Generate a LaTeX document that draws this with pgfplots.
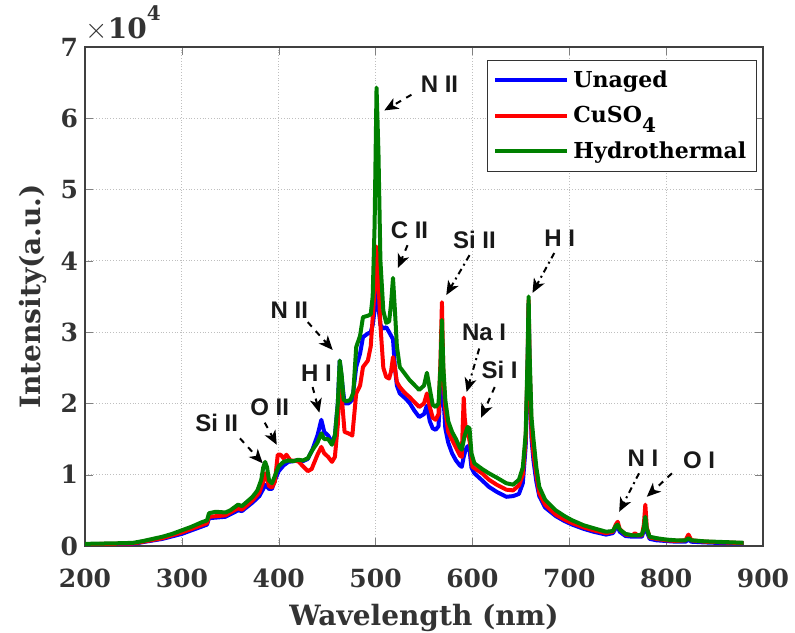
\documentclass[border=0pt]{standalone}
\usepackage{fontspec}
\setmainfont{DejaVu Serif}
\newfontfamily\annot{Liberation Sans}
\usepackage{pgfplots}
\pgfplotsset{compat=1.18}
\usetikzlibrary{arrows.meta}
\definecolor{mblue}{RGB}{0,0,255}
\definecolor{mred}{RGB}{255,0,0}
\definecolor{mgreen}{RGB}{0,128,0}
\begin{document}
\begin{tikzpicture}
\begin{axis}[
  scale only axis, width=339pt, height=249.5pt,
  xmin=200, xmax=900, ymin=0, ymax=70000,
  xtick={200,300,...,900},
  ytick={0,10000,20000,30000,40000,50000,60000,70000},
  yticklabels={0,1,2,3,4,5,6,7},
  scaled y ticks=false,
  /pgf/number format/assume math mode=true,
  /pgf/number format/1000 sep={},
  tick label style={font=\bfseries\fontsize{12.5}{14}\selectfont, text=black!80},
  xticklabel style={anchor=center, yshift=-16pt},
  tick align=inside, tick pos=both,
  major tick length=4pt,
  grid=major,
  major grid style={densely dotted, black!25, line width=0.6pt},
  axis line style={black!75, line width=0.6pt},
  xlabel={Wavelength (nm)},
  ylabel={Intensity(a.u.)},
  xlabel style={at={(axis description cs:0.5,0)}, anchor=center, yshift=-36pt},
  label style={font=\bfseries\fontsize{14}{16}\selectfont, text=black!80},
  legend style={at={(0.991,0.974)}, anchor=north east, draw=black!80, line width=0.6pt,
    font=\bfseries\fontsize{11}{13}\selectfont, row sep=4pt, inner xsep=3pt, inner ysep=3pt},
  legend cell align=left,
  legend image code/.code={\draw[#1] plot coordinates {(0pt,0pt) (36pt,0pt)};},
  every axis plot/.append style={line width=2pt, line join=round},
]
\addplot[mblue] coordinates {
(200,200)(250,300)(260,550)(280,1000)(300,1700)(320,2700)(326,3000)(328,3900)(345,4100)(358,5000)(362,4900)(373,6100)(380,7000)(384,8000)(386,8600)(388,8300)(390,8000)(393,8000)(396,9200)(400,10500)(405,11300)(410,11800)(420,12000)(425,11900)(430,12200)(435,13600)(440,15500)(444,17700)(447,16000)(451,15500)(455,14500)(458,15500)(461,20000)(463,26000)(465,23500)(468,20000)(472,20000)(476,20500)(480,25100)(484,27000)(487,29300)(492,29800)(495,30000)(497,31000)(499,33000)(501,36000)(503,33500)(505,31000)(508,30500)(511,30700)(514,30000)(516,29500)(518,29000)(520,25000)(522,22500)(525,21400)(530,20800)(535,20100)(540,19000)(545,18100)(550,18500)(553,19700)(556,17500)(559,16500)(562,16300)(565,16800)(567,22000)(568.5,28000)(570,21000)(572,16500)(575,14500)(579,13000)(583,12000)(587,11300)(589,11100)(591,12500)(593,13500)(595,14000)(597,13500)(599,11000)(602,10200)(610,9200)(617,8300)(625,7600)(635,6900)(642,7000)(648,7300)(652,8800)(655,14000)(657,25000)(658,34000)(659,25000)(661,15000)(663,12000)(666,9000)(669,7000)(675,5400)(686,4200)(695,3500)(703,3000)(715,2400)(725,2000)(738,1600)(745,1800)(748,2500)(750,2800)(752,2000)(758,1400)(765,1300)(770,1300)(775,1300)(777,2200)(778.5,3600)(780,2000)(783,1000)(790,800)(800,700)(810,600)(820,600)(823,900)(826,600)(840,500)(860,400)(880,350)
};
\addlegendentry{Unaged}
\addplot[mred] coordinates {
(200,250)(250,350)(260,600)(280,1100)(300,1900)(320,2900)(326,3200)(328,4100)(345,4300)(358,5300)(362,5100)(373,6400)(380,7500)(384,9000)(386,10200)(388,9500)(390,8400)(393,8200)(396,9000)(399,12800)(402,12800)(405,12300)(408,12800)(412,12000)(420,11900)(425,11200)(430,10500)(434,10800)(440,12800)(444,13900)(447,13000)(451,12500)(455,11800)(458,12500)(461,17000)(463,23200)(465,21000)(468,16000)(472,15800)(476,15500)(480,21400)(484,22500)(487,25100)(492,26000)(495,28000)(497,32000)(499,36000)(501,42000)(503,37000)(505,31000)(508,25000)(511,23700)(514,23500)(516,24500)(518,26500)(520,25000)(522,23000)(525,22300)(530,21500)(535,20900)(540,20200)(545,19500)(550,20000)(553,21400)(556,19500)(559,18000)(562,17700)(565,18500)(567,26000)(568.5,34200)(570,24000)(572,19000)(575,16000)(579,14900)(583,13800)(587,12700)(589,12500)(590,17000)(591,20800)(592,18000)(594,15500)(596,15500)(598,14000)(600,11100)(610,10200)(617,9300)(625,8600)(635,7900)(642,7800)(648,8500)(652,10000)(655,15000)(657,26000)(658,34500)(659,26000)(661,16000)(663,13000)(666,10000)(669,7400)(675,5800)(686,4400)(695,3700)(703,3200)(715,2600)(725,2200)(738,1800)(745,2000)(748,3000)(750,3400)(752,2400)(758,1600)(765,1500)(768,1800)(770,1500)(775,1500)(777,3000)(778.5,5800)(780,2600)(783,1200)(790,1000)(800,800)(810,700)(820,800)(823,1600)(826,800)(840,600)(860,500)(880,400)
};
\addlegendentry{CuSO\raisebox{-0.9ex}{\fontsize{10}{12}\selectfont 4}}
\addplot[mgreen] coordinates {
(200,300)(220,350)(240,400)(250,450)(260,700)(270,1000)(280,1300)(290,1700)(300,2200)(310,2700)(320,3300)(326,3600)(328,4600)(335,4800)(345,4700)(350,5000)(358,5800)(362,5600)(368,6300)(373,6900)(378,7800)(382,9300)(384,11000)(386,11800)(388,11000)(390,9200)(393,8800)(396,9800)(400,11200)(405,11800)(410,12000)(415,11900)(420,12100)(425,12000)(430,12300)(435,13500)(440,14500)(444,15800)(447,15000)(451,15000)(455,14200)(458,15500)(461,20000)(463,26000)(465,24000)(467,20500)(470,20300)(474,20500)(477,21500)(480,27900)(484,29500)(487,32100)(492,32300)(495,32500)(497,35000)(499,45000)(501,64300)(503,55000)(505,40000)(508,33000)(511,31300)(514,31500)(516,34000)(518,37600)(520,33000)(522,28000)(525,25100)(530,24200)(535,23300)(540,22600)(545,21900)(550,22500)(553,24300)(556,22000)(559,19800)(562,19500)(565,20000)(567,25000)(568.5,31700)(570,25000)(572,20500)(575,17500)(579,16000)(583,15000)(587,13800)(589,13500)(592,15500)(595,16700)(597,16500)(599,13000)(602,11600)(610,10800)(617,10200)(625,9600)(635,8800)(642,8600)(648,9300)(652,11000)(655,15800)(657,27000)(658,35000)(659,27000)(661,18000)(663,15000)(666,11000)(669,8300)(675,6500)(686,5000)(695,4200)(703,3600)(715,2900)(725,2500)(738,2000)(745,2100)(748,2800)(750,3000)(752,2300)(758,1700)(765,1500)(770,1500)(775,1600)(777,2500)(778.5,4100)(780,2400)(783,1300)(790,1100)(800,900)(810,800)(820,800)(823,1100)(826,800)(840,650)(860,550)(880,450)
};
\addlegendentry{Hydrothermal}
% annotations
\tikzset{lab/.style={font=\annot\bfseries\fontsize{12}{14}\selectfont, text=black!90},
  arr/.style={black, line width=1pt, -{Stealth[length=7pt,width=6pt,inset=2pt]}}}
\node[lab] at (axis cs:566,64800) {N II};
\draw[arr, dashed] (axis cs:537,63300) -- (axis cs:509,61100);
\node[lab] at (axis cs:535,44300) {C II};
\draw[arr, dashed] (axis cs:533,42200) -- (axis cs:523,39000);
\node[lab] at (axis cs:602,42900) {Si II};
\draw[arr, dash dot] (axis cs:597,40800) -- (axis cs:573,35200);
\node[lab] at (axis cs:690,43200) {H I};
\draw[arr, dash dot] (axis cs:684.5,41100) -- (axis cs:662,35500);
\node[lab] at (axis cs:612,29900) {Na I};
\draw[arr, dash dot] (axis cs:607,27700) -- (axis cs:594,21600);
\node[lab] at (axis cs:628,24700) {Si I};
\draw[arr, dashed] (axis cs:623,22300) -- (axis cs:609,18000);
\node[lab] at (axis cs:776,12300) {N I};
\draw[arr, dash dot] (axis cs:772,10200) -- (axis cs:751.5,4800);
\node[lab] at (axis cs:834,12100) {O I};
\draw[arr, dashed] (axis cs:806,10200) -- (axis cs:780,6900);
\node[lab] at (axis cs:411,33100) {N II};
\draw[arr, dashed] (axis cs:430,31400) -- (axis cs:455.7,27500);
\node[lab] at (axis cs:439,24300) {H I};
\draw[arr, dashed] (axis cs:435,22300) -- (axis cs:442,18700);
\node[lab] at (axis cs:390.7,19400) {O II};
\draw[arr, dashed] (axis cs:385.6,17300) -- (axis cs:398,14200);
\node[lab] at (axis cs:336,17300) {Si II};
\draw[arr, dashed] (axis cs:360,15100) -- (axis cs:383.5,11600);
\end{axis}
\node[anchor=south west, inner sep=0pt, font=\fontsize{14}{16}\selectfont, text=black!80] at ([yshift=3pt]current axis.north west) {$\times$\textbf{10}\raisebox{1.2ex}{\fontsize{10}{12}\selectfont\bfseries 4}};
\pgfresetboundingbox
\path ([shift={(-42.5pt,-43.5pt)}]current axis.south west) rectangle ([shift={(16pt,23.5pt)}]current axis.north east);
\end{tikzpicture}
\end{document}
